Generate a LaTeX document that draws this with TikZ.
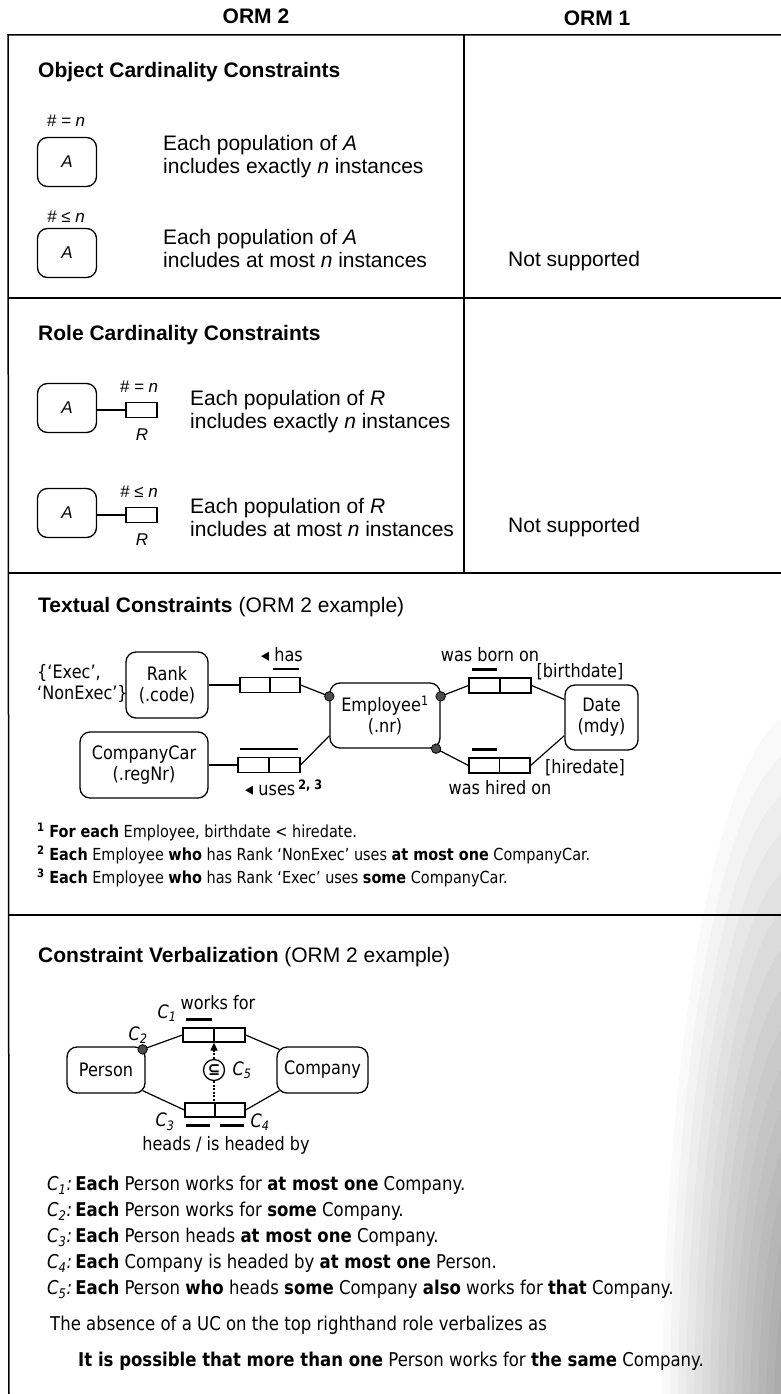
\documentclass[tikz,border=0pt]{standalone}
\usepackage{fontspec}
\setmainfont{Liberation Sans}
\newfontfamily\tahfont[FakeStretch=0.87]{DejaVu Sans}
\usetikzlibrary{calc,arrows.meta}
\newcommand\fbody{\fontsize{21}{23}\selectfont}
\newcommand\fsmall{\fontsize{17}{20}\selectfont}
\newcommand\ftah{\tahfont\fontsize{18.5}{21}\selectfont}
\newcommand\fnote{\tahfont\fontsize{16.6}{20}\selectfont}
\newcommand\fverb{\tahfont\fontsize{19}{21}\selectfont}
\begin{document}
\begin{tikzpicture}[x=1pt,y=-1pt,
  txt/.style={inner sep=0pt, anchor=west, font=\fbody},
  ctxt/.style={inner sep=0pt, font=\fbody},
  objbox/.style={draw, rounded corners=10pt, line width=1.3pt, inner sep=0pt, align=center},
  rolebox/.style={draw, line width=1.2pt, inner sep=0pt, minimum height=15pt},
  ucbar/.style={line width=2.4pt},
  conn/.style={line width=1.2pt},
  rule/.style={line width=1.5pt},
  mdot/.style={circle, fill=black!70, draw=black, line width=0.8pt, inner sep=0pt, minimum size=9.5pt},
]
\fill[white] (0,0) rectangle (781,1394);
\useasboundingbox (0,0) rectangle (781,1394);
% scan stipple on the right
\foreach \i in {1,...,16}{
  \fill[black, opacity=0.022] (800,1420) ellipse [x radius={10+\i*8}, y radius={100+\i*38}];
}
% headers
\node[ctxt, font=\fbody\bfseries] (h2) at (256,16) {ORM 2};
\node[ctxt, font=\fbody\bfseries] (h1) at (597,18) {ORM 1};
% frame
\coordinate (tl) at (8,35); \coordinate (tr) at (781,35); \coordinate (bl) at (9,1394);
\coordinate (vt) at (464,35); \coordinate (vb) at (464,573);
\coordinate (l1a) at (9,298); \coordinate (l1b) at (781,298);
\coordinate (l2a) at (9,573); \coordinate (l2b) at (781,573);
\coordinate (l3a) at (9,915); \coordinate (l3b) at (781,915);
\draw[rule] (tr) -- (tl) -- (bl);
\draw[rule] (vt) -- (vb);
\draw[rule] (l1a) -- (l1b);
\draw[rule] (l2a) -- (l2b);
\draw[rule] (l3a) -- (l3b);

% Object cardinality
\node[txt, font=\fbody\bfseries] (oh) at (38,72) {Object Cardinality Constraints};
\node[ctxt, font=\fsmall\itshape] (oc1) at (66,121) {\# = n};
\node[objbox, minimum width=59pt, minimum height=49pt, font=\fsmall\itshape] (oa1) at (67,162) {A};
\node[txt, align=left] (ot1) at (163,157) {Each population of \textit{A}\\includes exactly \textit{n} instances};
\node[ctxt, font=\fsmall\itshape] (oc2) at (66,217) {\# ≤ n};
\node[objbox, minimum width=59pt, minimum height=49pt, font=\fsmall\itshape] (oa2) at (67,253) {A};
\node[txt, align=left] (ot2) at (163,248) {Each population of \textit{A}\\includes at most \textit{n} instances};
\node[txt] (ns1) at (508,261) {Not supported};

% Role cardinality
\node[txt, font=\fbody\bfseries] (rh) at (38,335) {Role Cardinality Constraints};
\node[objbox, minimum width=59pt, minimum height=49pt, font=\fsmall\itshape] (ra1) at (67,408) {A};
\node[rolebox, minimum width=31pt] (rr1) at (141.5,410) {};
\draw[conn] (rr1.west) -- (ra1.east |- rr1.west);
\node[ctxt, font=\fsmall\itshape] (rc1) at (139,387) {\# = n};
\node[ctxt, font=\fsmall\itshape] (rn1) at (142,435) {R};
\node[txt, align=left] (rt1) at (190,412) {Each population of \textit{R}\\includes exactly \textit{n} instances};
\node[objbox, minimum width=59pt, minimum height=49pt, font=\fsmall\itshape] (ra2) at (67,513) {A};
\node[rolebox, minimum width=31pt] (rr2) at (141.5,515) {};
\draw[conn] (rr2.west) -- (ra2.east |- rr2.west);
\node[ctxt, font=\fsmall\itshape] (rc2) at (139,492) {\# ≤ n};
\node[ctxt, font=\fsmall\itshape] (rn2) at (142,540) {R};
\node[txt, align=left] (rt2) at (190,517) {Each population of \textit{R}\\includes at most \textit{n} instances};
\node[txt] (ns2) at (508,527) {Not supported};

% Textual constraints
\node[txt] (th) at (38,607) {\textbf{Textual Constraints} (ORM 2 example)};
\node[txt, font=\ftah, align=left] (vals) at (37,683) {\{‘Exec’,\\‘NonExec’\}};
\node[objbox, minimum width=82pt, minimum height=66pt, font=\ftah] (rank) at (167,685) {Rank\\(.code)};
\node[rolebox, minimum width=60pt] (has) at (270,685) {};
\draw[conn] (has.north) -- (has.south);
\draw[ucbar] ($(has.north)+(3pt,8pt)$) -- ($(has.north east)+(-2pt,8pt)$);
\node[ctxt, font=\ftah] (hasl) at (282,655) {◂ has};
\node[objbox, minimum width=110pt, minimum height=65pt, font=\ftah] (emp) at (385,715.5) {Employee\textsuperscript{1}\\(.nr)};
\node[objbox, minimum width=128pt, minimum height=66pt, font=\ftah] (cc) at (144,765) {CompanyCar\\(.regNr)};
\node[rolebox, minimum width=62pt] (uses) at (269,765) {};
\draw[conn] (uses.north) -- (uses.south);
\draw[ucbar] ($(uses.north west)+(3pt,8pt)$) -- ($(uses.north east)+(-3pt,8pt)$);
\node[ctxt, font=\ftah] (usesl) at (284,788) {◂ uses\,\textsuperscript{\bfseries 2, 3}};
\node[rolebox, minimum width=62pt] (born) at (500,685.5) {};
\draw[conn] (born.north) -- (born.south);
\draw[ucbar] ($(born.north west)+(4pt,8pt)$) -- ($(born.north)+(-3pt,8pt)$);
\node[ctxt, font=\ftah] (bornl) at (490,655) {was born on};
\node[ctxt, font=\ftah] (bdl) at (580,672) {[birthdate]};
\node[objbox, minimum width=73pt, minimum height=65pt, font=\ftah] (date) at (601.5,717.5) {Date\\(mdy)};
\node[rolebox, minimum width=61pt] (hired) at (499.5,765.5) {};
\draw[conn] (hired.north) -- (hired.south);
\draw[ucbar] ($(hired.north west)+(4pt,8pt)$) -- ($(hired.north)+(-3pt,8pt)$);
\node[ctxt, font=\ftah] (hdl) at (585,768) {[hiredate]};
\node[ctxt, font=\ftah] (hiredl) at (500,788) {was hired on};
\coordinate (d1) at (emp.161);
\coordinate (d2) at (emp.19);
\coordinate (d3) at (emp.327);
\draw[conn] (rank) -- (has);
\draw[conn] (has.east) -- (d1);
\draw[conn] (cc) -- (uses);
\draw[conn] (uses.east) -- (emp.200);
\draw[conn] (d2) -- (born.west);
\draw[conn] (born.east) -- (date.154);
\draw[conn] (d3) -- (hired.west);
\draw[conn] (hired.east) -- (date.206);
\node[mdot] (d1n) at (d1) {};
\node[mdot] (d2n) at (d2) {};
\node[mdot] (d3n) at (d3) {};
\node[txt, font=\fnote] (f1) at (37,832) {\textsuperscript{\bfseries 1} \textbf{For each} Employee, birthdate < hiredate.};
\node[txt, font=\fnote] (f2) at (37,855) {\textsuperscript{\bfseries 2} \textbf{Each} Employee \textbf{who} has Rank ‘NonExec’ uses \textbf{at most one} CompanyCar.};
\node[txt, font=\fnote] (f3) at (37,878) {\textsuperscript{\bfseries 3} \textbf{Each} Employee \textbf{who} has Rank ‘Exec’ uses \textbf{some} CompanyCar.};

% Constraint verbalization
\node[txt] (vh) at (38,957) {\textbf{Constraint Verbalization} (ORM 2 example)};
\node[rolebox, minimum width=62pt, minimum height=14pt] (works) at (214,1035) {};
\draw[conn] (works.north) -- (works.south);
\draw[ucbar] ($(works.north west)+(4pt,8pt)$) -- ($(works.north)+(-2pt,8pt)$);
\node[ctxt, font=\ftah] (worksl) at (218,1003) {works for};
\node[objbox, minimum width=78pt, minimum height=46pt, font=\ftah] (person) at (106,1070) {Person};
\node[objbox, minimum width=91pt, minimum height=46pt, font=\ftah] (company) at (322.5,1070) {Company};
\node[rolebox, minimum width=60pt, minimum height=14pt] (heads) at (215,1110) {};
\draw[conn] (heads.north) -- (heads.south);
\draw[ucbar] ($(heads.south west)+(2pt,-8pt)$) -- ($(heads.south)+(-5pt,-8pt)$);
\draw[ucbar] ($(heads.south)+(5pt,-8pt)$) -- ($(heads.south east)+(-2pt,-8pt)$);
\node[ctxt, font=\ftah] (headsl) at (226,1145) {heads / is headed by};
\node[circle, draw, line width=1.3pt, inner sep=0pt, minimum size=21pt, font=\tahfont\bfseries\fontsize{17}{17}\selectfont] (sub) at (214,1070) {⊆};
\coordinate (c2p) at ($(person.north east)+(-3pt,-3pt)$);
\coordinate (cop) at ($(company.north west)+(3pt,-3pt)$);
\coordinate (pbp) at ($(person.south east)+(-3pt,3pt)$);
\coordinate (cbp) at ($(company.south west)+(3pt,3pt)$);
\draw[conn] (works.west) -- (c2p);
\draw[conn] (works.east) -- (cop);
\draw[conn] (pbp) -- (heads.west);
\draw[conn] (heads.east) -- (cbp);
\draw[conn, dash pattern=on 2pt off 1.5pt, -{Triangle[length=8pt,width=7pt]}] (sub.north) -- (sub.north |- works.south);
\draw[conn, dash pattern=on 2pt off 1.5pt] (sub.south) -- (sub.south |- heads.north);
\node[mdot] (c2n) at (c2p) {};
\node[ctxt, font=\ftah\itshape] (c1l) at (167,1013) {C\textsubscript{1}};
\node[ctxt, font=\ftah\itshape] (c2l) at (138,1035) {C\textsubscript{2}};
\node[ctxt, font=\ftah\itshape] (c5l) at (242,1070) {C\textsubscript{5}};
\node[ctxt, font=\ftah\itshape] (c3l) at (165,1122) {C\textsubscript{3}};
\node[ctxt, font=\ftah\itshape] (c4l) at (260,1122) {C\textsubscript{4}};
\node[txt, font=\fverb] (v1) at (47,1185) {{\itshape C\textsubscript{1}:}\,\textbf{Each} Person works for \textbf{at most one} Company.};
\node[txt, font=\fverb] (v2) at (47,1211) {{\itshape C\textsubscript{2}:}\,\textbf{Each} Person works for \textbf{some} Company.};
\node[txt, font=\fverb] (v3) at (47,1237) {{\itshape C\textsubscript{3}:}\,\textbf{Each} Person heads \textbf{at most one} Company.};
\node[txt, font=\fverb] (v4) at (47,1263) {{\itshape C\textsubscript{4}:}\,\textbf{Each} Company is headed by \textbf{at most one} Person.};
\node[txt, font=\fverb] (v5) at (47,1289) {{\itshape C\textsubscript{5}:}\,\textbf{Each} Person \textbf{who} heads \textbf{some} Company \textbf{also} works for \textbf{that} Company.};
\node[txt, font=\fverb] (v6) at (50,1325) {The absence of a UC on the top righthand role verbalizes as};
\node[txt, font=\fverb] (v7) at (78,1361) {\textbf{It is possible that more than one} Person works for \textbf{the same} Company.};
\end{tikzpicture}
\end{document}
